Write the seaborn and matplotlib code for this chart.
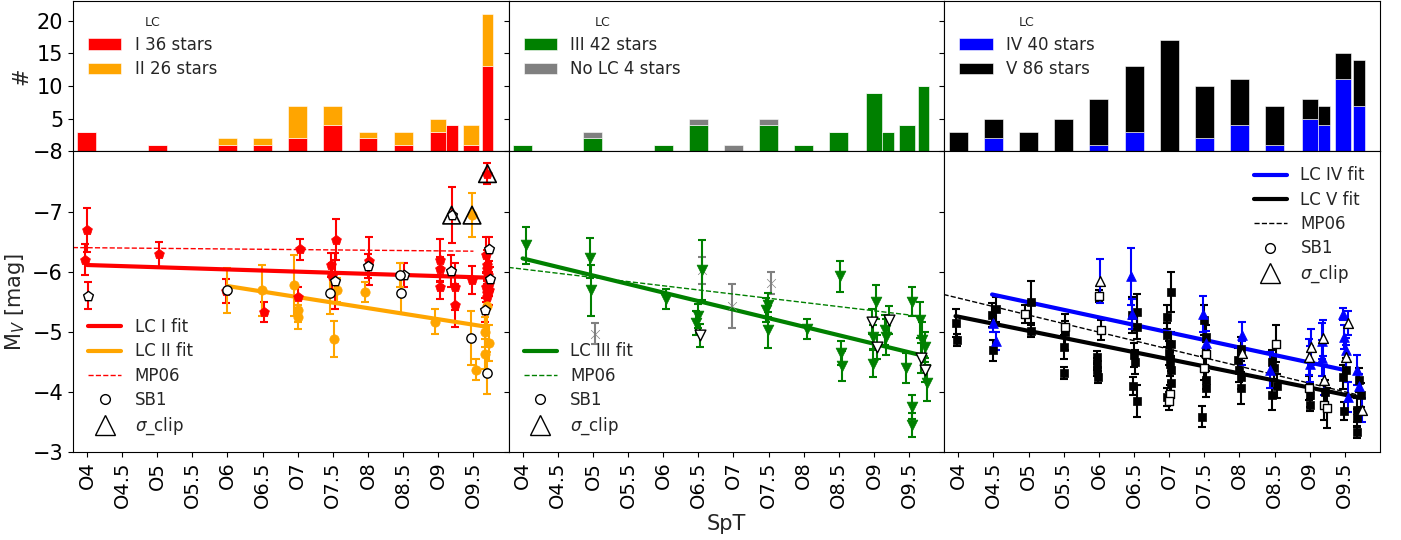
import numpy as np
import matplotlib
matplotlib.use("Agg")
import matplotlib.pyplot as plt
from matplotlib.lines import Line2D
import seaborn as sns

sns.set_style("ticks", {"axes.edgecolor": "black", "xtick.color": "black", "ytick.color": "black"})
plt.rcParams['font.family'] = ['DejaVu Sans']

# ---- histogram data (counts per spectral subtype) ----
hist_spt = [4.0, 4.5, 5.0, 5.5, 6.0, 6.5, 7.0, 7.5, 8.0, 8.5, 9.0, 9.2, 9.47, 9.7]
n_I = [3, 0, 1, 0, 1, 1, 2, 4, 2, 1, 3, 4, 1, 13]
n_II = [0, 0, 0, 0, 1, 1, 5, 3, 1, 2, 2, 0, 3, 8]
n_III = [1, 0, 2, 0, 1, 4, 0, 4, 1, 3, 9, 3, 4, 10]
n_noLC = [0, 0, 1, 0, 0, 1, 1, 1, 0, 0, 0, 0, 0, 0]
n_IV = [0, 2, 0, 0, 1, 3, 0, 2, 4, 1, 5, 4, 11, 7]
n_V = [3, 3, 3, 5, 7, 10, 17, 8, 7, 6, 3, 3, 4, 7]

# ---- LC I (red) ----
spt_I = [4.0, 3.97, 4.02, 5.02, 5.98, 6.52, 7.0, 7.03, 7.47, 7.49, 7.55, 7.53, 8.02, 8.0, 8.51,
         9.03, 9.02, 9.03, 9.18, 9.24, 9.24, 9.19, 9.48, 9.7, 9.68, 9.7, 9.72, 9.73, 9.68, 9.72,
         9.69, 9.66, 9.7, 9.71, 9.69, 9.72]
mv_I = [-6.69, -6.20, -5.60, -6.29, -5.68, -5.33, -5.57, -6.37, -6.11, -5.92, -6.53, -5.84, -6.18, -6.09, -5.94,
        -6.19, -6.05, -5.74, -6.01, -5.75, -5.44, -6.94, -5.86, -7.63, -6.27, -6.11, -6.37, -5.88, -5.75, -5.69,
        -5.58, -5.36, -6.05, -5.95, -5.65, -5.80]
err_I = [0.36, 0.26, 0.22, 0.21, 0.20, 0.16, 0.17, 0.18, 0.20, 0.22, 0.34, 0.47, 0.40, 0.20, 0.20,
         0.36, 0.20, 0.20, 0.27, 0.39, 0.36, 0.47, 0.24, 0.18, 0.30, 0.25, 0.20, 0.20, 0.25, 0.25,
         0.20, 0.20, 0.25, 0.20, 0.20, 0.20]
sb1_I = [0, 0, 1, 0, 0, 0, 0, 0, 0, 0, 0, 1, 0, 1, 1,
         0, 0, 0, 1, 0, 0, 1, 0, 0, 0, 0, 1, 1, 0, 0,
         0, 1, 0, 0, 0, 0]

# ---- LC II (orange) ----
spt_II = [5.99, 6.49, 6.95, 7.0, 7.01, 7.51, 7.56, 7.46, 7.96, 8.47, 8.46, 8.96, 9.48, 9.47,
          9.54, 9.7, 9.67, 9.72, 9.66, 9.7]
mv_II = [-5.69, -5.69, -5.77, -5.36, -5.25, -4.88, -5.69, -5.65, -5.66, -5.64, -5.94, -5.17, -6.94, -4.89,
         -4.37, -5.42, -5.00, -4.82, -4.63, -4.31]
err_II = [0.37, 0.42, 0.50, 0.20, 0.20, 0.30, 0.20, 0.35, 0.17, 0.33, 0.20, 0.20, 0.36, 0.45,
          0.17, 0.30, 0.25, 0.30, 0.25, 0.35]
sb1_II = [1, 0, 0, 0, 0, 0, 0, 1, 0, 1, 1, 0, 0, 1,
          0, 0, 0, 0, 0, 1]

# ---- LC III (green) ----
spt_III = [4.05, 4.96, 4.98, 6.04, 6.49, 6.47, 6.52, 6.55, 7.46, 7.49, 7.49, 8.05, 8.51, 8.53, 8.55,
           8.97, 8.98, 9.03, 9.04, 8.99, 9.15, 9.17, 9.21, 9.46, 9.54, 9.54, 9.54, 9.66, 9.67, 9.69,
           9.73, 9.75, 9.72]
mv_III = [-6.44, -6.23, -5.69, -5.54, -5.26, -5.14, -4.94, -6.02, -5.36, -5.44, -5.03, -5.05, -5.92, -4.64, -4.43,
          -5.17, -4.92, -5.50, -4.75, -4.47, -5.03, -4.92, -5.20, -4.39, -5.50, -3.75, -3.45, -5.19, -4.56, -4.86,
          -4.36, -4.14, -4.75]
err_III = [0.31, 0.33, 0.42, 0.17, 0.20, 0.20, 0.19, 0.50, 0.20, 0.20, 0.30, 0.17, 0.26, 0.20, 0.25,
           0.20, 0.20, 0.28, 0.20, 0.22, 0.25, 0.30, 0.23, 0.25, 0.24, 0.20, 0.20, 0.30, 0.25, 0.30,
           0.20, 0.30, 0.25]
sb1_III = [0, 0, 0, 0, 0, 0, 1, 0, 0, 0, 0, 0, 0, 0, 0,
           1, 0, 0, 1, 0, 0, 0, 1, 0, 0, 0, 0, 0, 1, 0,
           1, 0, 0]

# ---- no LC (grey) ----
spt_noLC = [5.03, 6.55, 6.98, 7.53]
mv_noLC = [-4.97, -6.02, -5.43, -5.81]
err_noLC = [0.17, 0.23, 0.37, 0.19]

# ---- LC IV (blue) ----
spt_IV = [4.50, 4.53, 6.02, 6.46, 6.47, 7.48, 7.53, 8.03, 8.04, 8.44, 8.99, 9.02, 9.01, 9.19,
          9.18, 9.21, 9.17, 9.47, 9.49, 9.51, 9.54, 9.54, 9.52, 9.68, 9.75, 9.70]
mv_IV = [-5.14, -4.85, -5.84, -5.92, -5.30, -5.30, -4.81, -4.94, -4.65, -4.36, -4.58, -4.75, -4.47, -4.89,
         -4.56, -4.20, -4.85, -5.30, -4.92, -4.58, -5.14, -3.92, -4.70, -4.36, -3.70, -4.10]
err_IV = [0.15, 0.15, 0.37, 0.47, 0.25, 0.30, 0.20, 0.23, 0.20, 0.30, 0.30, 0.30, 0.30, 0.30,
          0.30, 0.25, 0.30, 0.10, 0.20, 0.20, 0.20, 0.25, 0.20, 0.25, 0.20, 0.20]
sb1_IV = [0, 0, 1, 0, 0, 0, 0, 0, 1, 0, 1, 1, 0, 1,
          0, 1, 0, 0, 0, 1, 1, 0, 0, 0, 1, 0]

# ---- LC V (black) ----
spt_V = [3.97, 3.98, 4.48, 4.54, 4.49, 5.03, 5.03, 4.95, 5.52, 5.51, 5.50, 5.52,
         5.97, 5.97, 5.98, 5.99, 6.00, 6.03, 6.47, 6.54, 6.54, 6.50, 6.52, 6.49, 6.54,
         7.03, 6.97, 6.97, 7.02, 7.00, 7.01, 7.02, 7.02, 6.97, 7.01, 7.00,
         7.49, 7.53, 7.52, 7.49, 7.52, 7.52, 7.47, 8.02, 7.98, 7.99, 8.02, 8.02,
         8.47, 8.49, 8.54, 8.47, 8.52, 8.99, 9.01, 9.01, 9.20, 9.25, 9.22,
         9.47, 9.52, 9.49, 9.70, 9.73, 9.68, 9.68, 9.68]
mv_V = [-5.14, -4.86, -5.28, -5.37, -4.69, -5.50, -5.01, -5.30, -5.00, -4.75, -4.31, -5.08,
        -4.58, -4.47, -4.36, -4.25, -5.60, -5.03, -5.28, -5.33, -5.08, -4.61, -4.50, -4.09, -3.85,
        -5.66, -5.25, -4.94, -4.80, -4.64, -4.47, -4.36, -4.14, -3.92, -3.97, -3.84,
        -5.19, -4.92, -4.63, -4.39, -4.20, -4.06, -3.59, -4.72, -4.53, -4.36, -4.25, -4.06,
        -4.50, -4.39, -4.09, -3.95, -4.80, -4.07, -3.95, -3.78, -3.78, -3.73, -4.00,
        -4.25, -4.36, -3.68, -4.20, -3.95, -3.70, -3.56, -3.34]
err_V = [0.23, 0.10, 0.20, 0.20, 0.17, 0.35, 0.10, 0.15, 0.30, 0.20, 0.10, 0.10,
         0.10, 0.10, 0.10, 0.10, 0.10, 0.17, 0.30, 0.30, 0.20, 0.20, 0.20, 0.15, 0.27,
         0.33, 0.20, 0.20, 0.20, 0.20, 0.20, 0.20, 0.20, 0.15, 0.15, 0.15,
         0.25, 0.20, 0.20, 0.20, 0.15, 0.15, 0.18, 0.20, 0.20, 0.20, 0.20, 0.27,
         0.20, 0.20, 0.20, 0.26, 0.31, 0.20, 0.20, 0.10, 0.25, 0.33, 0.20,
         0.20, 0.20, 0.15, 0.20, 0.20, 0.20, 0.15, 0.10]
sb1_V = [0, 0, 0, 0, 0, 0, 0, 1, 0, 0, 0, 1,
         0, 0, 0, 0, 1, 1, 0, 0, 0, 0, 0, 0, 0,
         0, 0, 0, 0, 0, 0, 0, 0, 0, 1, 1,
         0, 0, 1, 1, 0, 0, 0, 0, 0, 0, 0, 0,
         0, 0, 0, 0, 1, 1, 0, 0, 1, 1, 0,
         0, 0, 0, 0, 0, 0, 0, 0]

# ---- sigma-clipped stars ----
clip_spt_left = [9.19, 9.48, 9.7]
clip_mv_left = [-6.94, -6.94, -7.63]

# ---- fit lines and MP06 calibrations ----
fit_I_spt, fit_I_mv = [4.0, 9.7], [-6.11, -5.90]
fit_II_spt, fit_II_mv = [6.0, 9.7], [-5.76, -5.08]
mp06_I_spt, mp06_I_mv = [3.8, 9.5], [-6.40, -6.34]
fit_III_spt, fit_III_mv = [4.0, 9.74], [-6.22, -4.59]
mp06_III_spt, mp06_III_mv = [3.8, 9.64], [-6.07, -5.26]
fit_IV_spt, fit_IV_mv = [4.48, 9.51], [-5.62, -4.36]
fit_V_spt, fit_V_mv = [3.96, 9.68], [-5.26, -3.91]
mp06_V_spt, mp06_V_mv = [3.79, 9.68], [-5.62, -3.95]

tick_pos = np.arange(4.0, 9.51, 0.5)
tick_lab = ['O4', 'O4.5', 'O5', 'O5.5', 'O6', 'O6.5', 'O7', 'O7.5', 'O8', 'O8.5', 'O9', 'O9.5']

bar_w = [0.27] * 10 + [0.23, 0.17, 0.23, 0.16]

fig = plt.figure(figsize=(14.01, 5.4), dpi=100)
gs = fig.add_gridspec(2, 3, height_ratios=[1, 2], hspace=0, wspace=0,
                      left=0.052, right=0.985, top=0.998, bottom=0.163)
hax = [fig.add_subplot(gs[0, i]) for i in range(3)]
sax = [fig.add_subplot(gs[1, i]) for i in range(3)]


def stacked(ax, bottom_counts, top_counts, c1, c2, l1, l2):
    ax.bar(hist_spt, bottom_counts, width=bar_w, color=c1, edgecolor='white', linewidth=0.4, label=l1)
    ax.bar(hist_spt, top_counts, width=bar_w, bottom=bottom_counts, color=c2,
           edgecolor='white', linewidth=0.4, label=l2)
    ax.legend(title='LC', loc='upper left', frameon=False, fontsize=12, title_fontsize=9,
              labelspacing=0.4)


stacked(hax[0], n_I, n_II, 'red', 'orange', f'I {sum(n_I)} stars', f'II {sum(n_II)} stars')
stacked(hax[1], n_III, n_noLC, 'green', 'grey', f'III {sum(n_III)} stars', f'No LC {sum(n_noLC)} stars')
stacked(hax[2], n_IV, n_V, 'blue', 'black', f'IV {sum(n_IV)} stars', f'V {sum(n_V)} stars')

for i, ax in enumerate(hax):
    ax.set_xlim(3.8, 10.0)
    ax.set_ylim(0, 23)
    ax.set_yticks([5, 10, 15, 20])
    ax.tick_params(axis='x', bottom=False, labelbottom=False)
    ax.tick_params(axis='y', labelsize=15, labelleft=(i == 0))
hax[0].set_ylabel('#', fontsize=15)


def points(ax, spt, mv, err, sb1, color, marker, size):
    spt, mv, err, sb1 = map(np.asarray, (spt, mv, err, sb1))
    ax.errorbar(spt, mv, yerr=err, fmt='none', ecolor=color, elinewidth=1.5,
                capsize=3, capthick=1.5, zorder=2)
    norm = sb1 == 0
    sns.scatterplot(x=spt[norm], y=mv[norm], ax=ax, marker=marker, color=color,
                    edgecolor=color, s=size, linewidth=0.5, zorder=3)
    if (~norm).any():
        sns.scatterplot(x=spt[~norm], y=mv[~norm], ax=ax, marker=marker, color='white',
                        edgecolor='black', s=size, linewidth=1.0, zorder=4)


def fitline(ax, x, y, color, ls='-', lw=3):
    sns.lineplot(x=x, y=y, ax=ax, color=color, linestyle=ls, linewidth=lw, zorder=2.5)


# left panel: LC I / II
ax = sax[0]
points(ax, spt_I, mv_I, err_I, sb1_I, 'red', 'p', 55)
points(ax, spt_II, mv_II, err_II, sb1_II, 'orange', 'o', 45)
sns.scatterplot(x=clip_spt_left, y=clip_mv_left, ax=ax, marker='^', facecolor='none',
                edgecolor='black', s=160, linewidth=1.2, zorder=5)
fitline(ax, fit_I_spt, fit_I_mv, 'red')
fitline(ax, fit_II_spt, fit_II_mv, 'orange')
fitline(ax, mp06_I_spt, mp06_I_mv, 'red', '--', 1)

# middle panel: LC III / no LC
ax = sax[1]
points(ax, spt_noLC, mv_noLC, err_noLC, [0] * len(spt_noLC), 'grey', 'x', 40)
points(ax, spt_III, mv_III, err_III, sb1_III, 'green', 'v', 60)
fitline(ax, fit_III_spt, fit_III_mv, 'green')
fitline(ax, mp06_III_spt, mp06_III_mv, 'green', '--', 1)

# right panel: LC IV / V
ax = sax[2]
points(ax, spt_V, mv_V, err_V, sb1_V, 'black', 's', 40)
points(ax, spt_IV, mv_IV, err_IV, sb1_IV, 'blue', '^', 50)
fitline(ax, fit_IV_spt, fit_IV_mv, 'blue')
fitline(ax, fit_V_spt, fit_V_mv, 'black')
fitline(ax, mp06_V_spt, mp06_V_mv, 'black', '--', 1)

sb1_h = Line2D([], [], ls='none', marker='o', mfc='white', mec='black', ms=7)
clip_h = Line2D([], [], ls='none', marker='^', mfc='none', mec='black', ms=14)


def lh(color, ls='-', lw=3):
    return Line2D([], [], color=color, ls=ls, lw=lw)


sax[0].legend([lh('red'), lh('orange'), lh('red', '--', 1), sb1_h, clip_h],
              ['LC I fit', 'LC II fit', 'MP06', 'SB1', r'$\sigma$_clip'],
              loc='lower left', frameon=False, fontsize=12, labelspacing=0.38)
sax[1].legend([lh('green'), lh('green', '--', 1), sb1_h, clip_h],
              ['LC III fit', 'MP06', 'SB1', r'$\sigma$_clip'],
              loc='lower left', frameon=False, fontsize=12, labelspacing=0.38)
sax[2].legend([lh('blue'), lh('black'), lh('black', '--', 1), sb1_h, clip_h],
              ['LC IV fit', 'LC V fit', 'MP06', 'SB1', r'$\sigma$_clip'],
              loc='upper right', frameon=False, fontsize=12, labelspacing=0.38)

for i, ax in enumerate(sax):
    ax.set_xlim(3.8, 10.0)
    ax.set_ylim(-3, -8)
    ax.set_yticks([-8, -7, -6, -5, -4, -3])
    ax.set_xticks(tick_pos)
    ax.set_xticklabels(tick_lab, rotation=90)
    ax.tick_params(axis='x', labelsize=14)
    ax.tick_params(axis='y', labelsize=15, labelleft=(i == 0))
    ax.set_xlabel('')
    ax.set_ylabel('')
sax[0].set_ylabel(r'M$_V$ [mag]', fontsize=15)
sax[1].set_xlabel('SpT', fontsize=15)

fig.savefig('out.png', dpi=100)
